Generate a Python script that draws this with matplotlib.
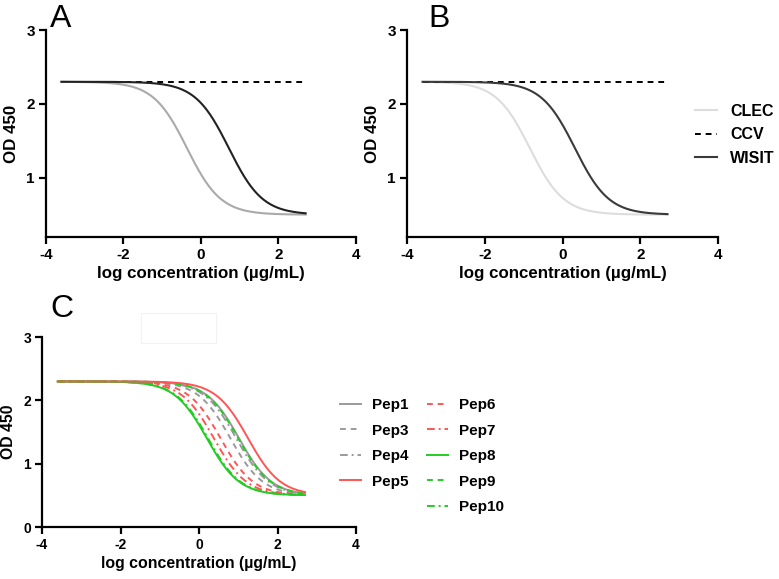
import numpy as np
import matplotlib
matplotlib.use("Agg")
import matplotlib.pyplot as plt
from matplotlib.patches import Rectangle

plt.rcParams["font.family"] = ["Liberation Sans", "DejaVu Sans"]
plt.rcParams["axes.unicode_minus"] = False

# dose-response fits (4PL): top, bottom, hill, logEC50
TOP = 2.3
BOTTOM = 0.5
HILL_AB = 1.0
HILL_C = 1.05
X_START, X_END = -3.6, 2.7

# panel A
a_names = ["CLEC", "WISIT"]
a_ec50 = [-0.36, 0.72]
a_colors = ["#aaaaaa", "#222222"]

# panel B
b_names = ["CLEC", "CCV", "WISIT"]
b_ec50 = [-0.84, 0.32]
b_colors = ["#dddddd", "#000000", "#3a3a3a"]

# CCV stays flat at the top
ccv_level = 2.3

# panel C
c_names = ["Pep1", "Pep3", "Pep4", "Pep5", "Pep6", "Pep7", "Pep8", "Pep9", "Pep10"]
c_ec50 = [1.02, 0.8, 0.95, 1.25, 0.55, 0.38, 0.2, 1.0, 0.23]
c_colors = ["#9a9a9a", "#9a9a9a", "#9a9a9a",
            "#ff5555", "#ff5555", "#ff5555",
            "#22cc22", "#22cc22", "#22cc22"]
c_styles = ["-", (0, (3, 2.5)), (0, (4, 2, 1, 2)),
            "-", (0, (3, 2.5)), (0, (4, 2, 1, 2)),
            "-", (0, (3, 2.5)), (0, (4, 2, 1, 2))]

xlabel = "log concentration (µg/mL)"
ylabel = "OD 450"


def fourpl(x, ec50, hill):
    return BOTTOM + (TOP - BOTTOM) / (1 + 10 ** ((x - ec50) * hill))


def style_axes(ax, ymin, yticks, fs, lfs):
    ax.set_xlim(-4, 4)
    ax.set_ylim(ymin, 3)
    ax.set_xticks([-4, -2, 0, 2, 4])
    ax.set_yticks(yticks)
    for s in ("top", "right"):
        ax.spines[s].set_visible(False)
    for s in ("left", "bottom"):
        ax.spines[s].set_linewidth(1.6)
    ax.tick_params(width=1.6, length=5, labelsize=fs, pad=3)
    for lab in ax.get_xticklabels() + ax.get_yticklabels():
        lab.set_fontweight("bold")
    ax.set_xlabel(xlabel, fontsize=lfs, fontweight="bold", labelpad=3)
    ax.set_ylabel(ylabel, fontsize=lfs, fontweight="bold", labelpad=5)


x = np.linspace(X_START, X_END, 300)

fig = plt.figure(figsize=(7.79, 5.79), dpi=100)
axA = fig.add_axes([0.059, 0.591, 0.398, 0.357])
axB = fig.add_axes([0.5225, 0.591, 0.3992, 0.357])
axC = fig.add_axes([0.054, 0.0898, 0.403, 0.328])

# A
axA.plot([X_START, X_END], [ccv_level, ccv_level], color="black", lw=1.4,
         linestyle=(0, (3, 2.5)))
axA.plot(x, fourpl(x, a_ec50[0], HILL_AB), color=a_colors[0], lw=1.5)
axA.plot(x, fourpl(x, a_ec50[1], HILL_AB), color=a_colors[1], lw=1.5)
style_axes(axA, 0.2, [1, 2, 3], 11, 12.2)

# B
hB = []
hB += axB.plot(x, fourpl(x, b_ec50[0], HILL_AB), color=b_colors[0], lw=1.5,
               label=b_names[0])
hB += axB.plot([X_START, X_END], [ccv_level, ccv_level], color=b_colors[1], lw=1.4,
               linestyle=(0, (3, 2.5)), label=b_names[1])
hB += axB.plot(x, fourpl(x, b_ec50[1], HILL_AB), color=b_colors[2], lw=1.5,
               label=b_names[2])
style_axes(axB, 0.2, [1, 2, 3], 11, 12.2)
fig.legend(handles=hB, loc="upper left", bbox_to_anchor=(695 / 779, 1 - 104 / 579),
           frameon=False, handlelength=1.4, handletextpad=0.8, borderpad=0,
           borderaxespad=0, labelspacing=0.52,
           prop={"weight": "bold", "size": 11.5})

# C
hC = []
order = [0, 1, 2, 4, 5, 7, 8, 6, 3]
for i in order:
    ln, = axC.plot(x, fourpl(x, c_ec50[i], HILL_C), color=c_colors[i], lw=1.4,
                   linestyle=c_styles[i], label=c_names[i])
    hC.append((i, ln))
hC = [ln for i, ln in sorted(hC)]
style_axes(axC, 0, [0, 1, 2, 3], 10, 11.4)
leg_kw = dict(frameon=False, handlelength=1.4, handletextpad=0.7, borderpad=0,
              borderaxespad=0, labelspacing=0.76,
              prop={"weight": "bold", "size": 11})
fig.legend(handles=hC[:4], loc="upper left",
           bbox_to_anchor=(340 / 779, 1 - 398 / 579), **leg_kw)
fig.legend(handles=hC[4:], loc="upper left",
           bbox_to_anchor=(427 / 779, 1 - 398 / 579), **leg_kw)

# faint box artefact above panel C
fig.patches.append(Rectangle((141 / 779, 1 - 343 / 579), 75 / 779, 30 / 579,
                             transform=fig.transFigure, fill=False,
                             edgecolor="#f2f2f2", lw=0.8))

# panel letters
fig.text(50 / 779, 1 - 27 / 579, "A", fontsize=23)
fig.text(428 / 779, 1 - 27 / 579, "B", fontsize=23)
fig.text(50 / 779, 1 - 317 / 579, "C", fontsize=23)

fig.savefig("out.png", dpi=100)
